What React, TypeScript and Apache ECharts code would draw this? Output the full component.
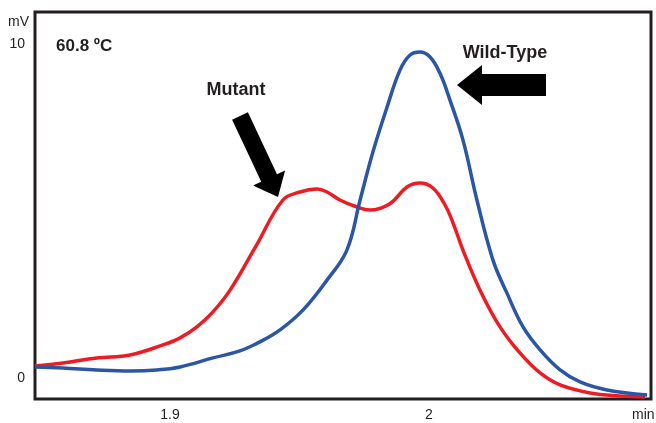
import React, { useEffect, useRef } from "react";
import * as echarts from "echarts";

const redTimes = [1.8479, 1.8587, 1.8718, 1.8846, 1.8973, 1.9039, 1.9104, 1.9166, 1.9232, 1.9332, 1.9436, 1.9502, 1.9568, 1.9606, 1.9656, 1.9722, 1.9772, 1.9849, 1.9915, 1.9965, 2.0015, 2.0062, 2.0093, 2.0131, 2.0197, 2.0274, 2.0351, 2.0429, 2.0506, 2.0622, 2.0737, 2.0834];
const redSignal = [0.33, 0.42, 0.57, 0.66, 0.96, 1.17, 1.5, 1.95, 2.6, 3.92, 5.3, 5.54, 5.63, 5.54, 5.3, 5.09, 5.0, 5.19, 5.69, 5.81, 5.66, 5.15, 4.61, 3.8, 2.6, 1.5, 0.72, 0.12, -0.24, -0.48, -0.57, -0.6];

const blueTimes = [1.8479, 1.8587, 1.8718, 1.8846, 1.895, 1.9039, 1.9166, 1.927, 1.9347, 1.9425, 1.9514, 1.9606, 1.9683, 1.9734, 1.9784, 1.9838, 1.9888, 1.9927, 1.9965, 2.0004, 2.0042, 2.0081, 2.0131, 2.0185, 2.0247, 2.0301, 2.0363, 2.0429, 2.0506, 2.0583, 2.0687, 2.0842];
const blueSignal = [0.3, 0.27, 0.21, 0.18, 0.21, 0.3, 0.57, 0.78, 1.05, 1.41, 2.01, 2.9, 3.8, 5.3, 6.75, 8.08, 9.19, 9.64, 9.73, 9.58, 9.1, 8.29, 7.1, 5.3, 3.5, 2.51, 1.5, 0.81, 0.21, -0.15, -0.39, -0.54];

const xTicks = [1.9, 2];
const yTicks = [0, 10];

const TEXT = "#231f20";
const FONT = "Liberation Sans, Arial, Helvetica, sans-serif";

export default function App() {
  const ref = useRef<HTMLDivElement>(null);
  useEffect(() => {
    if (!ref.current) return;
    const chart = echarts.init(ref.current, undefined, { renderer: "svg" });
    const zip = (a: number[], b: number[]) => a.map((v, i) => [v, b[i]]);
    chart.setOption({
      animation: false,
      grid: {
        left: 35,
        right: 5,
        top: 12,
        bottom: 24,
        show: true,
        borderColor: TEXT,
        borderWidth: 3,
        backgroundColor: "#fff",
      },
      xAxis: {
        type: "value",
        min: 1.8479,
        max: 2.0857,
        axisLine: { show: false },
        axisTick: { show: false },
        splitLine: { show: false },
        axisLabel: {
          customValues: xTicks,
          color: TEXT,
          fontSize: 14,
          fontFamily: FONT,
          margin: 8,
        },
      },
      yAxis: {
        type: "value",
        min: -0.66,
        max: 10.93,
        name: "mV",
        nameLocation: "end",
        nameGap: -9,
        nameTextStyle: {
          color: TEXT,
          fontSize: 14,
          fontFamily: FONT,
          align: "right",
          verticalAlign: "middle",
          padding: [0, 6, 0, 0],
        },
        axisLine: { show: false },
        axisTick: { show: false },
        splitLine: { show: false },
        axisLabel: {
          customValues: yTicks,
          color: TEXT,
          fontSize: 14,
          fontFamily: FONT,
          margin: 10,
        },
      },
      series: [
        {
          name: "Mutant",
          type: "line",
          data: zip(redTimes, redSignal),
          smooth: 0.4,
          showSymbol: false,
          lineStyle: { color: "#ed1c24", width: 3.5 },
          z: 3,
        },
        {
          name: "Wild-Type",
          type: "line",
          data: zip(blueTimes, blueSignal),
          smooth: 0.4,
          showSymbol: false,
          lineStyle: { color: "#2b55a5", width: 3.5 },
          z: 4,
        },
      ],
      graphic: [
        {
          type: "text",
          style: { text: "min", x: 632, y: 414, fill: TEXT, font: `14px ${FONT}`, align: "left", verticalAlign: "middle" },
        },
        {
          type: "text",
          style: { text: "60.8 ºC", x: 56, y: 45, fill: TEXT, font: `bold 17px ${FONT}`, align: "left", verticalAlign: "middle" },
        },
        {
          type: "text",
          style: { text: "Mutant", x: 236, y: 89, fill: TEXT, font: `bold 18px ${FONT}`, align: "center", verticalAlign: "middle" },
        },
        {
          type: "text",
          style: { text: "Wild-Type", x: 505, y: 52, fill: TEXT, font: `bold 18px ${FONT}`, align: "center", verticalAlign: "middle" },
        },
        {
          type: "polygon",
          shape: {
            points: [
              [232.1, 119.7],
              [247.9, 112.3],
              [277, 174.3],
              [285.1, 170.5],
              [278, 197],
              [253.1, 185.5],
              [261.2, 181.7],
            ],
          },
          style: { fill: "#000" },
        },
        {
          type: "polygon",
          shape: {
            points: [
              [457, 85],
              [482, 65],
              [482, 74],
              [546, 74],
              [546, 96],
              [482, 96],
              [482, 105],
            ],
          },
          style: { fill: "#000" },
        },
      ],
    });
    return () => chart.dispose();
  }, []);
  return <div ref={ref} style={{ position: "fixed", left: 0, top: 0, width: 656, height: 423 }} />;
}
